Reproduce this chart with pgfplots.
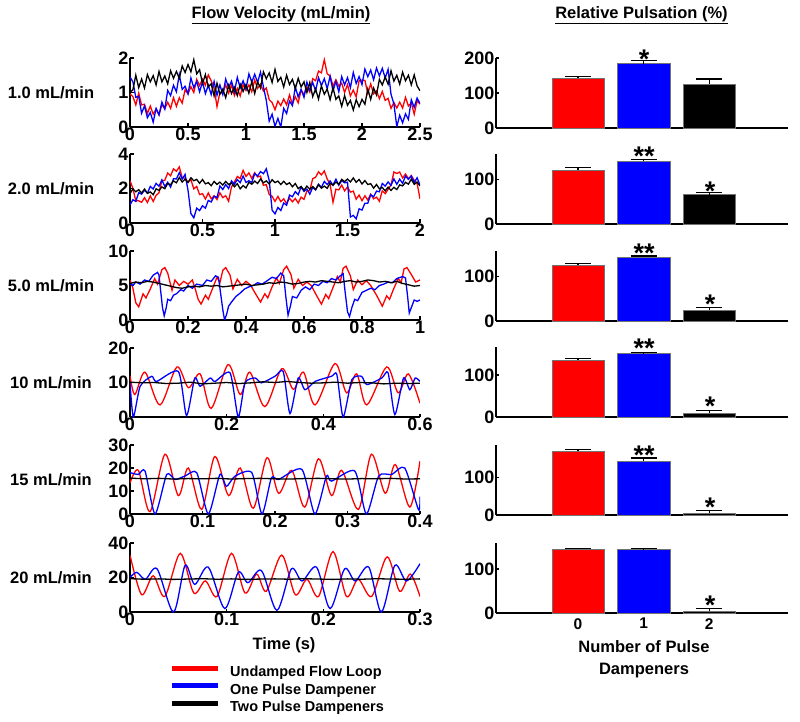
\documentclass[border=0pt]{standalone}
\usepackage{fontspec}
\setmainfont{Liberation Sans}
\usepackage{pgfplots}
\usepackage{pgfplotstable}
\pgfplotsset{compat=1.18}
\newcommand\tickf{\fontsize{18}{20}\selectfont\bfseries}
\newcommand\labf{\fontsize{16.5}{20}\selectfont\bfseries}
\newcommand\legf{\fontsize{14.5}{17}\selectfont\bfseries}
\newcommand\starf{\fontsize{27}{27}\selectfont\bfseries}
\newcommand\bxf{\fontsize{15.5}{18}\selectfont\bfseries}

\pgfplotstableread{
t r b k
0 0.96 1.45 1.00
0.025 0.88 1.31 1.08
0.05 0.64 0.86 1.50
0.075 0.98 0.89 1.14
0.1 0.64 0.40 1.39
0.125 0.66 0.61 1.13
0.15 0.39 0.27 1.52
0.175 0.61 0.42 1.31
0.2 0.37 0.14 1.49
0.225 0.52 0.54 1.22
0.25 0.35 0.35 1.61
0.275 0.65 0.72 1.31
0.3 0.53 0.52 1.48
0.325 0.72 1.06 1.25
0.35 0.54 0.91 1.63
0.375 0.85 1.21 1.41
0.4 0.60 1.02 1.61
0.425 0.85 1.52 1.41
0.45 0.69 1.09 1.77
0.475 1.08 1.18 1.58
0.5 0.96 0.96 1.81
0.525 1.17 1.42 1.60
0.55 1.00 1.14 1.95
0.575 1.38 1.32 1.54
0.6 1.20 1.02 1.66
0.625 1.39 1.31 1.26
0.65 1.21 0.97 1.52
0.675 1.51 1.21 1.17
0.7 1.34 0.94 1.25
0.725 1.13 1.32 0.90
0.75 0.59 0.92 1.27
0.775 1.00 1.22 0.95
0.8 0.98 0.94 1.10
0.825 1.22 1.39 0.85
0.85 0.98 1.14 1.21
0.875 1.22 1.33 0.97
0.9 0.91 1.02 1.15
0.925 1.12 1.44 0.91
0.95 0.90 1.13 1.24
0.975 1.23 1.34 1.03
1.0 1.06 1.11 1.23
1.025 1.22 1.54 0.98
1.05 1.02 1.30 1.32
1.075 1.36 1.53 0.97
1.1 1.12 1.29 1.31
1.125 1.24 1.59 1.13
1.15 1.04 1.17 1.60
1.175 1.13 0.77 1.40
1.2 0.79 0.17 1.57
1.225 0.71 0.37 1.29
1.25 0.50 0.02 1.67
1.275 0.75 0.25 1.32
1.3 0.62 0.00 1.44
1.325 0.81 0.54 1.16
1.35 0.64 0.39 1.50
1.375 0.93 0.75 1.23
1.4 0.66 0.62 1.38
1.425 0.88 1.16 1.11
1.45 0.70 0.87 1.41
1.475 1.07 1.09 1.16
1.5 0.94 0.86 1.31
1.525 1.16 1.30 1.00
1.55 1.01 1.06 1.29
1.575 1.40 1.29 0.88
1.6 1.34 1.05 1.10
1.625 1.62 1.43 0.81
1.65 1.57 1.20 1.19
1.675 1.95 1.40 0.95
1.7 1.54 1.11 1.10
1.725 1.48 1.47 0.79
1.75 1.19 1.05 1.14
1.775 1.37 1.32 0.80
1.8 1.18 1.02 0.90
1.825 1.27 1.46 0.60
1.85 1.00 1.22 0.91
1.875 1.23 1.43 0.63
1.9 0.90 1.14 0.77
1.925 1.07 1.58 0.49
1.95 0.87 1.26 0.79
1.975 1.34 1.46 0.59
2.0 1.36 1.23 0.80
2.025 1.35 1.68 0.66
2.05 0.97 1.46 1.10
2.075 1.25 1.65 0.80
2.1 0.96 1.37 1.13
2.125 1.05 1.71 0.93
2.15 0.82 1.48 1.38
2.175 1.03 1.70 1.22
2.2 0.77 1.42 1.45
2.225 0.83 1.67 1.24
2.25 0.54 0.95 1.63
2.275 0.71 0.67 1.33
2.3 0.55 0.01 1.50
2.325 0.72 0.34 1.24
2.35 0.55 0.12 1.59
2.375 0.86 0.38 1.34
2.4 0.61 0.22 1.50
2.425 0.70 0.79 1.22
2.45 0.37 0.57 1.51
2.475 0.76 0.84 1.19
2.5 0.66 0.68 1.05
}\rowA

\pgfplotstableread{
t r b k
0 2.45 1.05 1.70
0.02 2.01 1.35 1.97
0.04 1.28 1.25 1.81
0.06 1.29 1.76 1.93
0.08 1.20 1.67 1.74
0.1 1.47 1.90 1.97
0.12 1.19 1.73 1.72
0.14 1.57 2.12 1.80
0.16 1.25 1.97 1.64
0.18 1.60 2.30 1.98
0.2 1.75 2.13 1.89
0.22 2.46 2.50 2.09
0.24 2.47 2.12 1.99
0.26 2.90 2.36 2.29
0.28 2.74 2.08 2.22
0.3 3.14 2.57 2.44
0.32 3.00 2.55 2.33
0.34 3.25 2.92 2.64
0.36 2.63 2.54 2.37
0.38 2.60 2.82 2.54
0.4 2.37 1.90 2.35
0.42 2.51 0.55 2.62
0.44 1.98 0.30 2.45
0.46 2.12 0.86 2.53
0.48 1.65 0.72 2.30
0.5 1.70 1.00 2.52
0.52 1.39 0.86 2.27
0.54 1.74 1.31 2.34
0.56 1.40 1.22 2.16
0.58 1.58 1.55 2.41
0.6 1.36 1.48 2.24
0.62 1.75 2.15 2.37
0.64 1.47 1.94 2.20
0.66 1.58 2.23 2.41
0.68 1.26 2.00 2.23
0.7 2.09 2.44 2.32
0.72 2.37 2.25 2.10
0.74 2.70 2.52 2.28
0.76 2.58 2.34 1.98
0.78 3.05 2.72 2.17
0.8 2.70 2.35 2.03
0.82 2.91 2.45 2.36
0.84 2.58 2.35 2.25
0.86 2.92 2.86 2.43
0.88 2.67 2.72 2.29
0.9 2.72 2.98 2.55
0.92 2.19 2.86 2.33
0.94 2.22 3.14 2.44
0.96 1.65 2.47 2.26
0.98 1.55 0.75 2.51
1.0 1.25 0.53 2.34
1.02 1.54 0.90 2.43
1.04 1.24 0.72 2.23
1.06 1.40 1.16 2.42
1.08 1.13 1.03 2.23
1.1 1.44 1.62 2.33
1.12 1.23 1.52 2.10
1.14 1.42 1.82 2.29
1.16 1.16 1.64 1.99
1.18 1.50 2.09 2.12
1.2 1.37 1.83 1.90
1.22 1.86 1.97 2.14
1.24 1.88 1.67 1.96
1.26 2.57 2.06 2.11
1.28 2.65 1.92 1.94
1.3 2.97 2.25 2.22
1.32 2.79 2.06 2.02
1.34 3.02 2.41 2.14
1.36 2.55 2.23 2.01
1.38 2.25 2.44 2.31
1.4 1.20 2.19 2.19
1.42 1.96 2.54 2.37
1.44 1.92 2.19 2.25
1.46 2.20 2.46 2.53
1.48 1.86 2.33 2.40
1.5 2.09 2.37 2.55
1.52 1.79 0.35 2.38
1.54 1.85 0.44 2.61
1.56 1.38 0.24 2.36
1.58 1.62 0.82 2.52
1.6 1.29 0.75 2.26
1.62 1.58 1.15 2.46
1.64 1.33 1.15 2.23
1.66 1.67 1.64 2.28
1.68 1.40 1.52 2.02
1.7 1.50 1.85 2.23
1.72 1.26 1.81 1.98
1.74 1.87 2.29 2.06
1.76 1.70 2.14 1.86
1.78 1.95 2.38 2.08
1.8 2.20 2.18 1.89
1.82 2.96 2.56 2.07
1.84 2.87 2.24 1.94
1.86 2.95 2.54 2.21
1.88 2.61 2.30 2.15
1.9 2.84 2.72 2.36
1.92 2.57 2.53 2.25
1.94 2.75 2.72 2.54
1.96 2.48 2.34 2.24
1.98 2.30 2.62 2.37
2.0 1.40 2.20 2.15
}\rowB

\pgfplotsset{
  leftax/.style={scale only axis, width=290pt, height=69pt, anchor=south west,
    axis lines=left, axis line style={-, line width=1.7pt, black},
    tick align=inside, major tick length=3.5pt, tick style={line width=1.2pt, black},
    ymin=0, tick label style={font=\tickf},
    xticklabel style={inner sep=1pt}, yticklabel style={inner sep=1.5pt},
    /pgf/number format/assume math mode=true,
    every axis plot/.append style={line width=1.3pt}},
  barax/.style={scale only axis, width=292pt, height=70pt, anchor=south west,
    axis lines=left, axis line style={-, line width=1.7pt, black},
    tick align=inside, major tick length=3pt, tick style={line width=1.2pt, black},
    xmin=-1.25, xmax=3.2, ymin=0, xtick=\empty, clip=false,
    tick label style={font=\tickf}, yticklabel style={inner sep=1.5pt},
    /pgf/number format/assume math mode=true},
  bb/.style={ybar, bar width=0.8, bar shift=0pt, fill=#1, draw=black!55, line width=0.5pt,
    error bars/y dir=plus, error bars/y explicit,
    error bars/error bar style={line width=1.4pt, black},
    error bars/error mark options={rotate=90, black, line width=1.4pt, mark size=13pt}},
}

\begin{document}
\begin{tikzpicture}
\useasboundingbox (0,0) rectangle (800pt,721pt);

% titles and row labels
\node[font=\labf] at (281pt,706pt) {\underline{Flow Velocity (mL/min)}};
\node[font=\labf] at (641.5pt,706pt) {\underline{Relative Pulsation (\%)}};
\node[font=\labf] at (51pt,628.5pt) {1.0 mL/min};
\node[font=\labf] at (51pt,532.5pt) {2.0 mL/min};
\node[font=\labf] at (51pt,435.5pt) {5.0 mL/min};
\node[font=\labf] at (51pt,338.5pt) {10 mL/min};
\node[font=\labf] at (51pt,241.5pt) {15 mL/min};
\node[font=\labf] at (51pt,143.5pt) {20 mL/min};

% ---------- left column ----------
\begin{axis}[leftax, at={(130pt,594pt)}, xmin=0, xmax=2.5, ymax=2,
  xtick={0,0.5,1,1.5,2,2.5}, ytick={0,1,2}]
\addplot[red] table[x=t,y=r]{\rowA};
\addplot[blue] table[x=t,y=b]{\rowA};
\addplot[black] table[x=t,y=k]{\rowA};
\end{axis}

\begin{axis}[leftax, at={(130pt,498pt)}, xmin=0, xmax=2, ymax=4,
  xtick={0,0.5,1,1.5,2}, ytick={0,2,4}]
\addplot[red] table[x=t,y=r]{\rowB};
\addplot[blue] table[x=t,y=b]{\rowB};
\addplot[black] table[x=t,y=k]{\rowB};
\end{axis}

\begin{axis}[leftax, at={(130pt,401pt)}, xmin=0, xmax=1, ymax=10,
  xtick={0,0.2,0.4,0.6,0.8,1}, ytick={0,5,10}]
\addplot[red] coordinates {(0,5.8) (0.01,4.6) (0.02,2.5) (0.03,1.9) (0.045,3.8) (0.055,3.2) (0.07,4.5) (0.085,6.0) (0.095,5.2) (0.11,7.3) (0.12,7.6) (0.13,6.8) (0.145,4.3) (0.155,5.8) (0.17,5.0) (0.185,5.6) (0.2,5.2) (0.215,5.8) (0.225,4.5) (0.235,3.0) (0.245,2.3) (0.26,3.6) (0.27,3.0) (0.285,4.6) (0.3,6.2) (0.31,5.4) (0.32,7.2) (0.33,7.6) (0.345,6.5) (0.355,4.5) (0.37,5.9) (0.385,5.0) (0.4,5.6) (0.415,5.1) (0.43,4.0) (0.45,2.6) (0.465,3.8) (0.475,3.2) (0.49,4.8) (0.505,6.1) (0.515,5.3) (0.53,7.3) (0.54,7.8) (0.555,6.6) (0.565,4.6) (0.58,5.9) (0.595,5.0) (0.61,5.5) (0.625,5.0) (0.64,3.8) (0.66,2.3) (0.675,3.7) (0.685,3.1) (0.7,4.7) (0.715,6.3) (0.725,5.5) (0.735,7.5) (0.745,7.8) (0.76,6.4) (0.77,4.4) (0.785,5.8) (0.8,5.1) (0.815,5.7) (0.83,5.0) (0.85,3.6) (0.87,2.0) (0.885,3.5) (0.895,3.0) (0.91,4.6) (0.925,6.0) (0.935,5.4) (0.945,7.4) (0.955,7.6) (0.97,6.6) (0.985,5.5) (1.0,5.8)};
\addplot[blue] coordinates {(0,5.3) (0.01,5.0) (0.02,5.5) (0.035,5.2) (0.05,5.8) (0.065,5.6) (0.08,6.5) (0.095,6.9) (0.1,6.5) (0.105,4.5) (0.112,1.8) (0.118,0.6) (0.125,1.8) (0.13,3.0) (0.14,2.8) (0.15,3.6) (0.16,3.8) (0.175,4.4) (0.185,4.2) (0.2,5.0) (0.215,4.6) (0.23,5.2) (0.25,5.0) (0.265,5.8) (0.28,5.6) (0.295,6.4) (0.305,6.2) (0.312,4.0) (0.32,1.5) (0.326,0.0) (0.333,0.8) (0.34,2.0) (0.35,2.6) (0.365,3.4) (0.38,3.9) (0.395,4.5) (0.41,4.8) (0.425,5.0) (0.44,5.4) (0.455,5.2) (0.47,5.6) (0.49,6.2) (0.505,6.0) (0.52,6.8) (0.53,6.4) (0.537,3.5) (0.545,0.7) (0.553,2.0) (0.56,3.4) (0.575,3.2) (0.59,4.3) (0.605,4.8) (0.62,4.4) (0.635,5.2) (0.65,5.0) (0.665,5.6) (0.68,5.4) (0.695,6.0) (0.71,5.8) (0.725,6.4) (0.735,6.7) (0.742,4.0) (0.75,1.2) (0.757,0.5) (0.765,1.8) (0.775,3.0) (0.785,2.8) (0.8,4.0) (0.815,4.3) (0.83,4.6) (0.845,4.4) (0.86,5.0) (0.875,5.2) (0.89,5.5) (0.905,5.4) (0.92,6.0) (0.94,6.3) (0.95,6.1) (0.957,3.5) (0.963,1.0) (0.97,1.8) (0.98,2.9) (0.99,2.7) (1.0,2.9)};
\addplot[black] coordinates {(0,5.3) (0.02,5.5) (0.04,5.4) (0.06,5.6) (0.08,5.5) (0.1,5.3) (0.12,5.1) (0.14,4.9) (0.16,4.7) (0.18,4.6) (0.2,4.8) (0.22,4.9) (0.24,4.8) (0.26,5.0) (0.28,4.9) (0.3,5.0) (0.32,4.8) (0.34,4.9) (0.36,5.0) (0.38,5.1) (0.4,5.2) (0.42,5.0) (0.44,5.1) (0.46,5.2) (0.48,5.4) (0.5,5.3) (0.52,5.5) (0.54,5.4) (0.56,5.2) (0.58,5.3) (0.6,5.5) (0.62,5.6) (0.64,5.5) (0.66,5.7) (0.68,5.6) (0.7,5.5) (0.72,5.4) (0.74,5.6) (0.76,5.7) (0.78,5.5) (0.8,5.6) (0.82,5.8) (0.84,5.7) (0.86,5.5) (0.88,5.6) (0.9,5.4) (0.92,5.6) (0.94,5.3) (0.96,5.1) (0.98,4.9) (1.0,5.0)};
\end{axis}

\begin{axis}[leftax, at={(130pt,304pt)}, xmin=0, xmax=0.6, ymax=20,
  xtick={0,0.2,0.4,0.6}, ytick={0,10,20}]
\addplot[red, smooth] coordinates {(0,12) (0.010,6.5) (0.031,13) (0.062,3.5) (0.097,14.5) (0.121,8.5) (0.145,12.5) (0.168,2.5) (0.203,15.2) (0.228,6.5) (0.248,13) (0.279,3) (0.314,14) (0.338,8) (0.359,13) (0.383,3.5) (0.424,15.5) (0.448,7) (0.469,12.5) (0.49,3.5) (0.531,14.5) (0.555,7) (0.576,12.5) (0.6,4)};
\addplot[blue, smooth, tension=0.4] coordinates {(0,9.9) (0.007,0) (0.021,8.9) (0.045,11.8) (0.055,10.3) (0.1,13.2) (0.117,0.4) (0.134,11.3) (0.145,8.9) (0.166,11.3) (0.176,10.3) (0.207,12.8) (0.224,0) (0.238,9.9) (0.259,11.3) (0.272,9.9) (0.3,11.8) (0.317,13.2) (0.331,1) (0.348,11.3) (0.362,7.9) (0.383,10.3) (0.417,11.8) (0.428,12.3) (0.441,0) (0.459,10.8) (0.479,11.8) (0.49,9.4) (0.521,11.3) (0.534,12.8) (0.548,0.7) (0.566,11.3) (0.579,7.9) (0.59,11.3) (0.6,10.3)};
\addplot[black] coordinates {(0,10.1) (0.025,9.9) (0.05,10.0) (0.075,9.7) (0.1,9.8) (0.125,10.1) (0.15,9.6) (0.175,9.8) (0.2,10.0) (0.225,9.7) (0.25,9.9) (0.275,10.2) (0.3,10.0) (0.325,10.3) (0.35,10.0) (0.375,9.8) (0.4,9.9) (0.425,10.1) (0.45,9.8) (0.475,10.0) (0.5,9.9) (0.525,9.6) (0.55,9.8) (0.575,9.7) (0.6,9.8)};
\end{axis}

\begin{axis}[leftax, at={(130pt,207pt)}, xmin=0, xmax=0.4, ymax=30,
  xtick={0,0.1,0.2,0.3,0.4}, ytick={0,10,20,30}]
\addplot[red, smooth] coordinates {(0,13.5) (0.0115,19) (0.0276,1) (0.0483,26) (0.0667,8) (0.0805,20) (0.0989,2) (0.117,25) (0.136,8) (0.152,20) (0.170,2.5) (0.189,24.5) (0.205,9) (0.223,19) (0.241,3) (0.26,24) (0.278,8) (0.292,19) (0.315,2) (0.333,26) (0.352,9) (0.366,21.5) (0.386,3) (0.4,23)};
\addplot[blue, smooth, tension=0.4] coordinates {(0,18) (0.0115,17.2) (0.0207,18.7) (0.0345,0) (0.0506,17.2) (0.062,15) (0.0759,16.5) (0.092,18) (0.108,0) (0.124,17.2) (0.133,12) (0.145,16.5) (0.168,18) (0.182,0) (0.195,15.7) (0.205,15) (0.237,19.4) (0.255,0) (0.271,16.5) (0.278,14.3) (0.31,18.7) (0.326,0) (0.343,16.5) (0.361,17.2) (0.379,20) (0.398,1.8) (0.4,7.6)};
\addplot[black] coordinates {(0,15.6) (0.02,15.3) (0.04,15.5) (0.06,15.2) (0.08,15.4) (0.1,15.3) (0.12,15.5) (0.14,15.2) (0.16,15.4) (0.18,15.5) (0.2,15.3) (0.22,15.2) (0.24,15.4) (0.26,15.5) (0.28,15.3) (0.3,15.2) (0.32,15.4) (0.34,15.3) (0.36,15.5) (0.38,15.2) (0.4,15.3)};
\end{axis}

\begin{axis}[leftax, at={(130pt,109pt)}, xmin=0, xmax=0.3, ymax=40,
  xtick={0,0.1,0.2,0.3}, ytick={0,20,40},
  xlabel={Time (s)},
  xlabel style={font=\labf, at={(axis description cs:0.5,0)}, anchor=north, inner sep=0pt, yshift=-25pt, xshift=9pt},
  legend entries={Undamped Flow Loop, One Pulse Dampener, Two Pulse Dampeners},
  legend image code/.code={\draw[line width=5pt] (0pt,4.5pt) -- (46pt,4.5pt);},
  legend cell align=left,
  legend style={at={(0.1345,-0.783)}, anchor=north west, draw=none, fill=none, font=\legf,
    inner sep=0pt, row sep=3.5pt, nodes={inner sep=0pt, text height=10.5pt, text depth=3pt},
    /tikz/every odd column/.style={column sep=10pt}}]
\addplot[red, smooth] coordinates {(0,33) (0.012,10) (0.024,21) (0.036,9) (0.052,34) (0.066,11) (0.078,18) (0.09,9) (0.105,34) (0.119,11) (0.131,22) (0.141,12) (0.157,33) (0.171,10) (0.183,19) (0.195,9) (0.21,35) (0.224,9) (0.236,19) (0.25,9) (0.266,32) (0.279,12) (0.29,22) (0.3,9)};
\addplot[blue, smooth] coordinates {(0,20) (0.007,23) (0.016,19) (0.028,25) (0.045,0) (0.057,27) (0.067,16) (0.081,26) (0.098,2) (0.112,23) (0.122,17) (0.136,24) (0.152,1) (0.167,25) (0.178,18) (0.193,26) (0.207,2) (0.222,25) (0.233,18) (0.247,26) (0.26,0) (0.274,27) (0.286,18) (0.3,28)};
\addplot[black] coordinates {(0,19.3) (0.015,19.0) (0.03,19.2) (0.045,18.9) (0.06,19.1) (0.075,19.3) (0.09,19.0) (0.105,19.2) (0.12,18.9) (0.135,19.1) (0.15,19.2) (0.165,19.0) (0.18,19.3) (0.195,19.1) (0.21,18.9) (0.225,19.2) (0.24,19.0) (0.255,19.3) (0.27,19.1) (0.285,19.0) (0.3,19.2)};
\end{axis}

% ---------- right column ----------
\begin{axis}[barax, at={(496pt,593pt)}, ymax=200, ytick={0,100,200}]
\addplot[bb=red] coordinates {(0,143) +- (0,4)};
\addplot[bb=blue] coordinates {(1,184) +- (0,8)};
\addplot[bb=black] coordinates {(2,126) +- (0,14)};
\end{axis}

\begin{axis}[barax, at={(496pt,497pt)}, ymax=157, ytick={0,100}]
\addplot[bb=red] coordinates {(0,121) +- (0,6)};
\addplot[bb=blue] coordinates {(1,141) +- (0,4)};
\addplot[bb=black] coordinates {(2,66) +- (0,4)};
\end{axis}

\begin{axis}[barax, at={(496pt,400pt)}, ymax=157, ytick={0,100}]
\addplot[bb=red] coordinates {(0,125) +- (0,4)};
\addplot[bb=blue] coordinates {(1,143) +- (0,3)};
\addplot[bb=black] coordinates {(2,24) +- (0,6)};
\end{axis}

\begin{axis}[barax, at={(496pt,304pt)}, ymax=167, ytick={0,100}]
\addplot[bb=red] coordinates {(0,136) +- (0,3)};
\addplot[bb=blue] coordinates {(1,151) +- (0,3)};
\addplot[bb=black] coordinates {(2,9) +- (0,7)};
\end{axis}

\begin{axis}[barax, at={(496pt,206pt)}, ymax=187, ytick={0,100}]
\addplot[bb=red] coordinates {(0,170) +- (0,5)};
\addplot[bb=blue] coordinates {(1,144) +- (0,8)};
\addplot[bb=black] coordinates {(2,6) +- (0,6)};
\end{axis}

\begin{axis}[barax, at={(496pt,108pt)}, ymax=159, ytick={0,100},
  xtick={0,1,2}, xticklabel style={font=\bxf, inner sep=1pt, yshift=-4pt},
  xlabel={Number of Pulse\\Dampeners},
  xlabel style={font=\fontsize{16.5}{22}\selectfont\bfseries, align=center, at={(axis description cs:0.5,0)}, anchor=north, inner sep=0pt, yshift=-27pt, xshift=2pt}]
\addplot[bb=red] coordinates {(0,145) +- (0,2)};
\addplot[bb=blue] coordinates {(1,144) +- (0,2)};
\addplot[bb=black] coordinates {(2,5) +- (0,5)};
\end{axis}

% significance markers
\node[font=\starf, anchor=north, inner sep=0pt] at (644pt,671pt) {*};
\node[font=\starf, anchor=north, inner sep=0pt] at (644pt,574pt) {**};
\node[font=\starf, anchor=north, inner sep=0pt] at (710pt,539pt) {*};
\node[font=\starf, anchor=north, inner sep=0pt] at (644pt,477pt) {**};
\node[font=\starf, anchor=north, inner sep=0pt] at (710pt,426pt) {*};
\node[font=\starf, anchor=north, inner sep=0pt] at (644pt,382pt) {**};
\node[font=\starf, anchor=north, inner sep=0pt] at (710pt,324pt) {*};
\node[font=\starf, anchor=north, inner sep=0pt] at (644pt,275pt) {**};
\node[font=\starf, anchor=north, inner sep=0pt] at (710pt,223pt) {*};
\node[font=\starf, anchor=north, inner sep=0pt] at (710pt,125pt) {*};
\end{tikzpicture}
\end{document}
